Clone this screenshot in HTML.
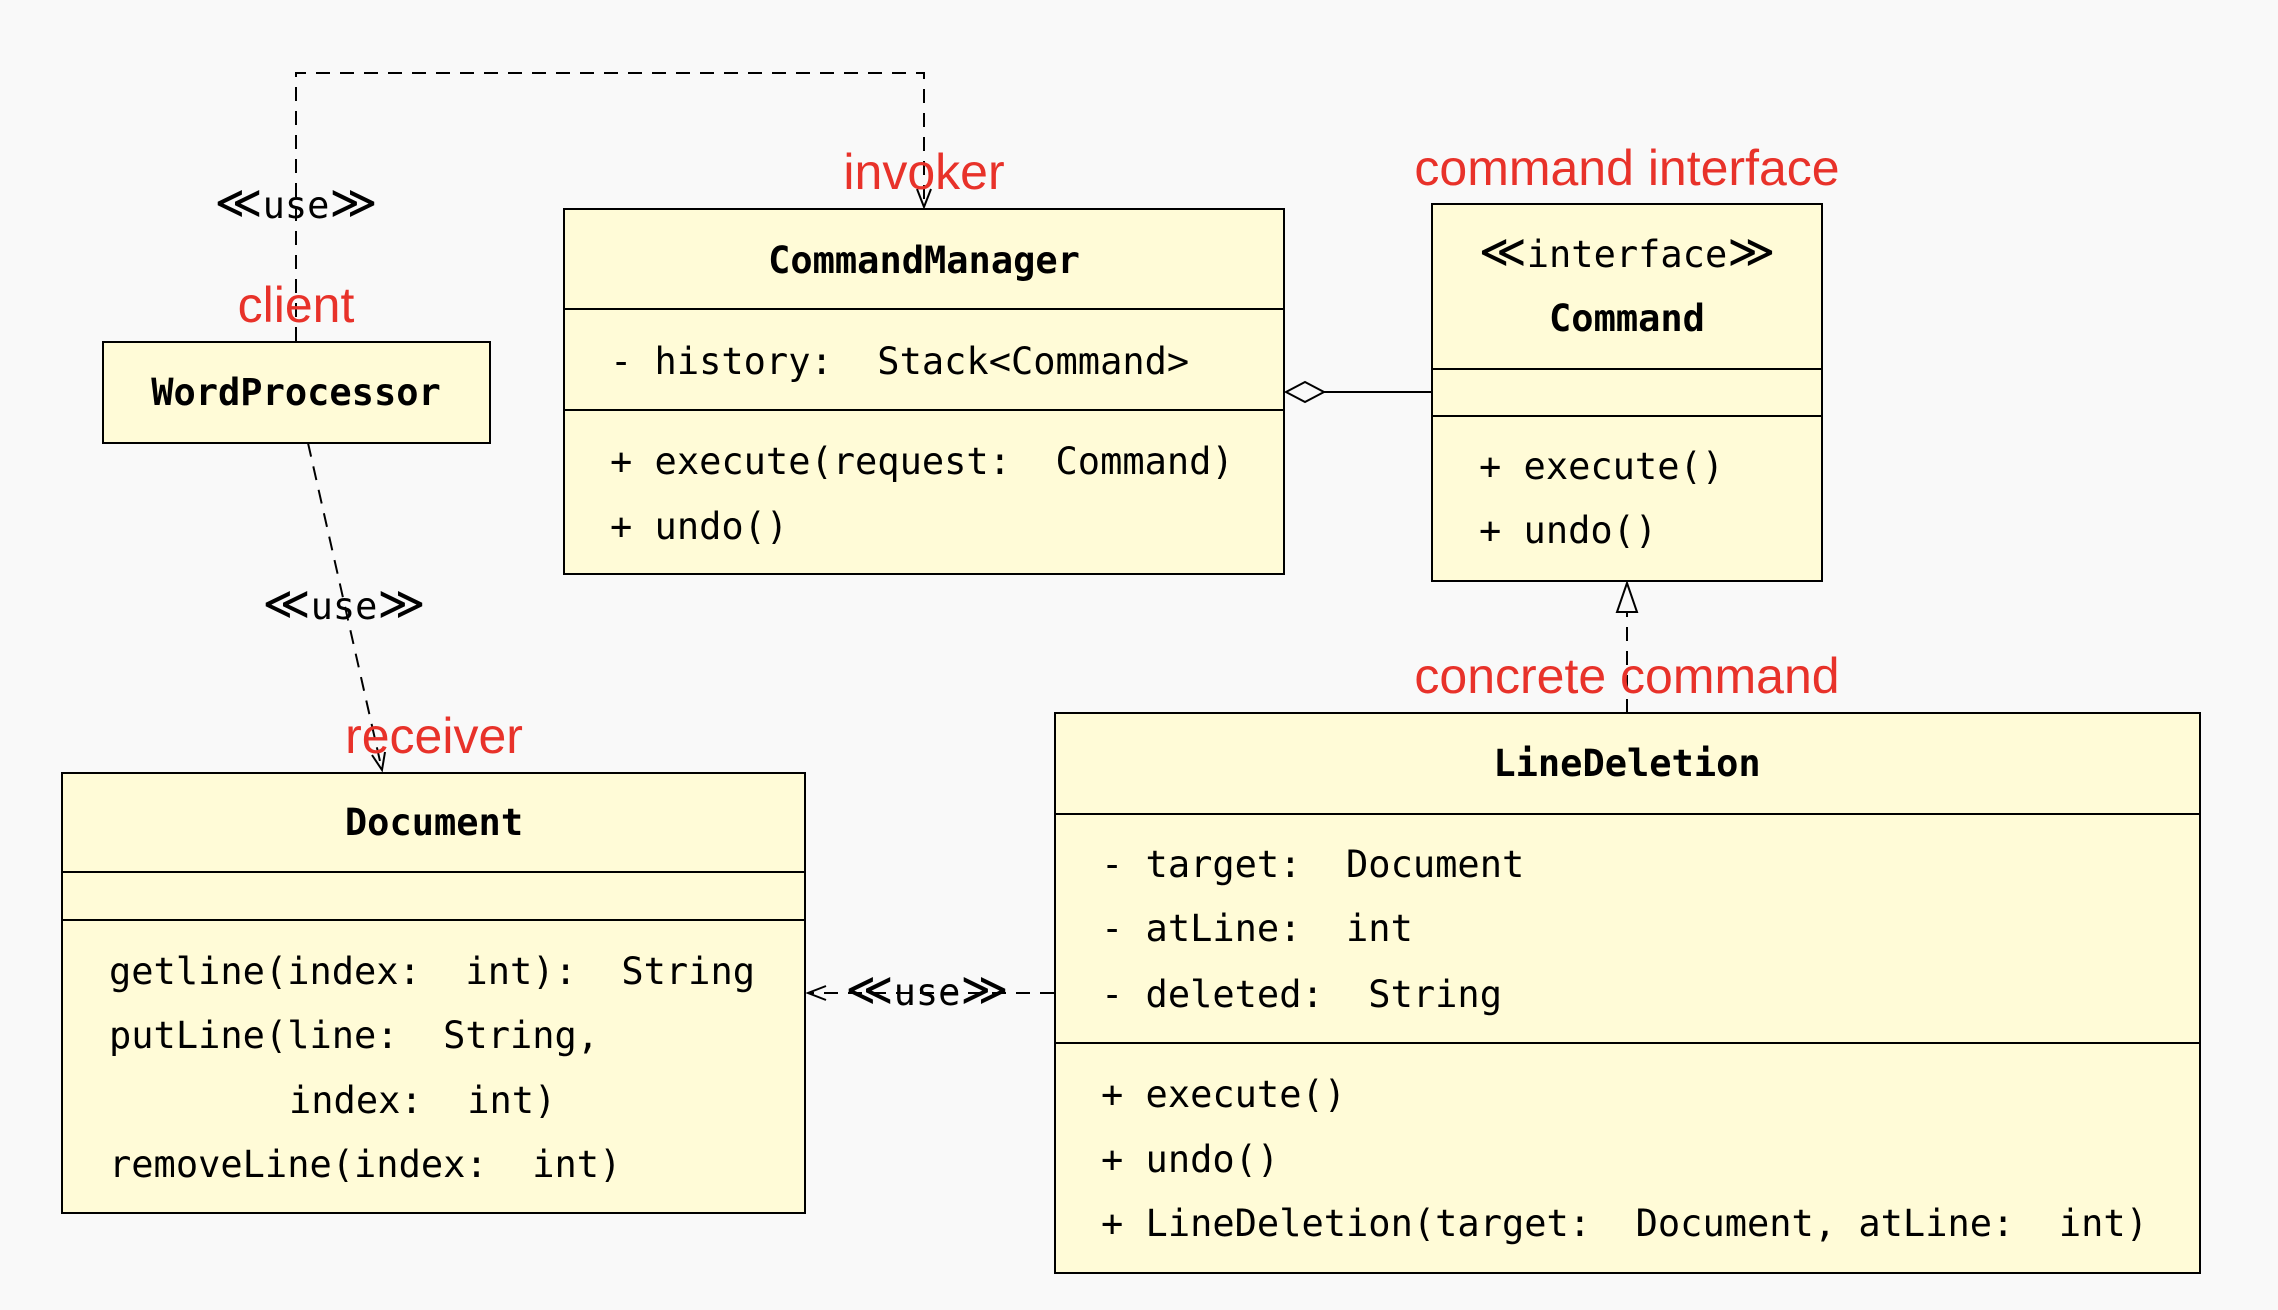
<!DOCTYPE html>
<html><head><meta charset="utf-8">
<style>
html,body{margin:0;padding:0;background:#f9f9f9;}
svg{display:block;}
.m{font-family:"DejaVu Sans Mono","Liberation Mono",monospace;font-size:37px;fill:#000;}
.b{font-weight:bold;}
.g{font-size:46px;}
.r{font-family:"Liberation Sans",sans-serif;font-size:50px;fill:#e8322a;}
.box{fill:#fffbd7;stroke:#000;stroke-width:2;}
.ln{stroke:#000;stroke-width:2;fill:none;}
.d{stroke:#000;stroke-width:2;fill:none;stroke-dasharray:14,10;}
</style></head><body>
<svg width="2278" height="1310" viewBox="0 0 2278 1310" xmlns="http://www.w3.org/2000/svg">
<rect width="2278" height="1310" fill="#f9f9f9"/>

<!-- connectors -->
<polyline class="d" points="296,341 296,73 924,73 924,207"/>
<polyline class="ln" points="917,189 924,207 931,189"/>
<line class="d" x1="308" y1="443" x2="382" y2="770"/>
<polyline class="ln" points="372,755 382,770 385,752"/>
<line class="d" x1="1054" y1="993" x2="808" y2="993"/>
<polyline class="ln" points="826,986 808,993 826,1000"/>
<line class="d" x1="1627" y1="713" x2="1627" y2="612"/>
<polygon class="ln" points="1627,583 1617,612 1637,612" fill="#f9f9f9"/>
<line class="ln" x1="1323" y1="392" x2="1432" y2="392"/>
<polygon class="ln" points="1286,392 1305,382 1324,392 1305,402" fill="#f9f9f9"/>

<!-- WordProcessor -->
<rect class="box" x="103" y="342" width="387" height="101"/>
<text class="m b" x="296" y="405" text-anchor="middle">WordProcessor</text>

<!-- CommandManager -->
<rect class="box" x="564" y="209" width="720" height="365"/>
<line class="ln" x1="564" y1="309" x2="1284" y2="309"/>
<line class="ln" x1="564" y1="410" x2="1284" y2="410"/>
<text class="m b" x="924" y="273" text-anchor="middle">CommandManager</text>
<text class="m" x="610" y="374" xml:space="preserve">- history:  Stack&lt;Command&gt;</text>
<text class="m" x="610" y="474" xml:space="preserve">+ execute(request:  Command)</text>
<text class="m" x="610" y="539">+ undo()</text>

<!-- Command -->
<rect class="box" x="1432" y="204" width="390" height="377"/>
<line class="ln" x1="1432" y1="369" x2="1822" y2="369"/>
<line class="ln" x1="1432" y1="416" x2="1822" y2="416"/>
<text class="m" x="1627" y="267" text-anchor="middle"><tspan class="g">≪</tspan>interface<tspan class="g">≫</tspan></text>
<text class="m b" x="1627" y="331" text-anchor="middle">Command</text>
<text class="m" x="1479" y="479">+ execute()</text>
<text class="m" x="1479" y="543">+ undo()</text>

<!-- Document -->
<rect class="box" x="62" y="773" width="743" height="440"/>
<line class="ln" x1="62" y1="872" x2="805" y2="872"/>
<line class="ln" x1="62" y1="920" x2="805" y2="920"/>
<text class="m b" x="434" y="835" text-anchor="middle">Document</text>
<text class="m" x="109" y="984" xml:space="preserve">getline(index:  int):  String</text>
<text class="m" x="109" y="1048" xml:space="preserve">putLine(line:  String,</text>
<text class="m" x="289" y="1113" xml:space="preserve">index:  int)</text>
<text class="m" x="109" y="1177" xml:space="preserve">removeLine(index:  int)</text>

<!-- LineDeletion -->
<rect class="box" x="1055" y="713" width="1145" height="560"/>
<line class="ln" x1="1055" y1="814" x2="2200" y2="814"/>
<line class="ln" x1="1055" y1="1043" x2="2200" y2="1043"/>
<text class="m b" x="1627" y="776" text-anchor="middle">LineDeletion</text>
<text class="m" x="1101" y="877" xml:space="preserve">- target:  Document</text>
<text class="m" x="1101" y="941" xml:space="preserve">- atLine:  int</text>
<text class="m" x="1101" y="1007" xml:space="preserve">- deleted:  String</text>
<text class="m" x="1101" y="1107">+ execute()</text>
<text class="m" x="1101" y="1172">+ undo()</text>
<text class="m" x="1101" y="1236" xml:space="preserve">+ LineDeletion(target:  Document, atLine:  int)</text>

<!-- stereotypes -->
<text class="m" x="296" y="218" text-anchor="middle"><tspan class="g">≪</tspan>use<tspan class="g">≫</tspan></text>
<text class="m" x="344" y="619" text-anchor="middle"><tspan class="g">≪</tspan>use<tspan class="g">≫</tspan></text>
<text class="m" x="927" y="1005" text-anchor="middle"><tspan class="g">≪</tspan>use<tspan class="g">≫</tspan></text>

<!-- red labels -->
<text class="r" x="924" y="189" text-anchor="middle">invoker</text>
<text class="r" x="296" y="322" text-anchor="middle">client</text>
<text class="r" x="1627" y="185" text-anchor="middle">command interface</text>
<text class="r" x="1627" y="693" text-anchor="middle">concrete command</text>
<text class="r" x="434" y="753" text-anchor="middle">receiver</text>
</svg>
</body></html>
